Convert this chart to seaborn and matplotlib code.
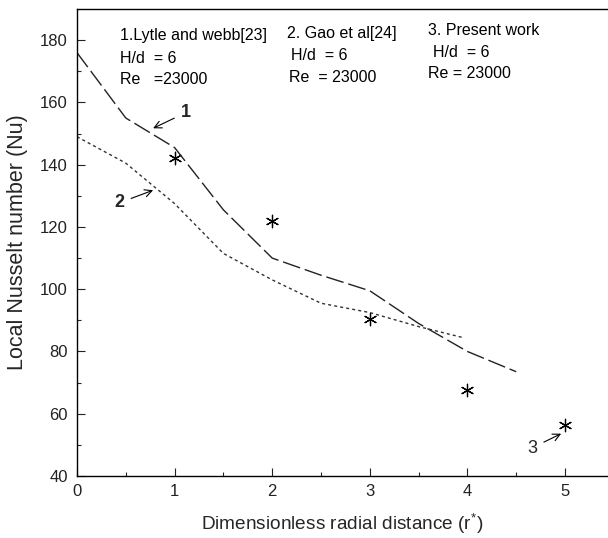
import matplotlib
matplotlib.use("Agg")
import matplotlib.pyplot as plt
import pandas as pd
import seaborn as sns

# Curve 1: Lytle and Webb [23]
x_lytle = [0.0, 0.5, 1.0, 1.5, 2.0, 2.5, 3.0, 3.5, 4.0, 4.5]
nu_lytle = [176, 155, 145.5, 125.5, 110, 104.5, 99.5, 89, 80, 73.5]

# Curve 2: Gao et al [24]
x_gao = [0.0, 0.5, 1.0, 1.5, 2.0, 2.5, 3.0, 3.5, 3.95]
nu_gao = [149, 140.5, 127.5, 111.5, 103, 95.5, 92.5, 88, 84.5]

# Present work (markers)
x_present = [1, 2, 3, 4, 5]
nu_present = [142, 122, 90.5, 67.5, 56.5]

x_ticks = [0, 1, 2, 3, 4, 5]
y_ticks = [40, 60, 80, 100, 120, 140, 160, 180]

sns.set_style("ticks")
plt.rcParams["font.family"] = ["Liberation Sans", "DejaVu Sans"]
plt.rcParams["mathtext.fontset"] = "custom"
plt.rcParams["mathtext.rm"] = "Liberation Sans"
plt.rcParams["mathtext.it"] = "Liberation Sans"

fig = plt.figure(figsize=(6.08, 5.38), dpi=100)
ax = fig.add_axes([0.1266, 0.1152, 0.8734, 0.868])

lytle = pd.DataFrame({"r": x_lytle, "Nu": nu_lytle})
gao = pd.DataFrame({"r": x_gao, "Nu": nu_gao})
present = pd.DataFrame({"r": x_present, "Nu": nu_present})

sns.lineplot(data=lytle, x="r", y="Nu", ax=ax, color="#222222", lw=1.0, sort=False)
ax.lines[-1].set_dashes((13, 3.5))
sns.lineplot(data=gao, x="r", y="Nu", ax=ax, color="#333333", lw=1.0, sort=False)
ax.lines[-1].set_dashes((2.2, 2.2))
sns.scatterplot(data=present, x="r", y="Nu", ax=ax, marker=(6, 2, 0), s=80,
                color="black", linewidth=0.9)

ax.set_xlim(0, 5.44)
ax.set_ylim(40, 190)
ax.set_xticks(x_ticks)
ax.set_yticks(y_ticks)
ax.set_xticks([0.5, 1.5, 2.5, 3.5, 4.5], minor=True)
ax.set_yticks([50, 70, 90, 110, 130, 150, 170], minor=True)
ax.tick_params(which="major", direction="in", length=6, width=0.8,
               labelsize=12, colors="#222222")
ax.tick_params(axis="y", which="major", pad=6.5)
ax.tick_params(axis="x", which="major", pad=6)
ax.tick_params(which="minor", direction="in", length=3, width=0.8)
ax.spines["right"].set_visible(False)
for s in ["left", "bottom", "top"]:
    ax.spines[s].set_linewidth(1.0)
    ax.spines[s].set_color("black")

ax.set_xlabel("Dimensionless radial distance (r$^{*}$)", fontsize=13.7)
ax.set_ylabel("Local Nusselt number (Nu)", fontsize=15.5)
ax.xaxis.set_label_coords(0.5, -0.076)
ax.yaxis.set_label_coords(-0.092, 0.5)

txt = dict(fontsize=11.5, ha="left", va="center", color="black")
ax.text(0.44, 181.6, "1.Lytle and webb[23]", **txt)
ax.text(0.44, 174.2, "H/d  = 6", **txt)
ax.text(0.44, 167.4, "Re   =23000", **txt)
ax.text(2.15, 182.2, "2. Gao et al[24]", **txt)
ax.text(2.19, 175.0, "H/d  = 6", **txt)
ax.text(2.17, 168.0, "Re  = 23000", **txt)
ax.text(3.60, 183.2, "3. Present work", **txt)
ax.text(3.65, 176.2, "H/d  = 6", **txt)
ax.text(3.60, 169.2, "Re = 23000", **txt)

arrow = dict(arrowstyle="->", color="black", lw=0.8, shrinkA=3, shrinkB=0)
ax.annotate("1", xy=(0.78, 151.7), xytext=(1.12, 156.8), fontsize=13,
            fontweight="bold", ha="center", va="center", arrowprops=arrow)
ax.annotate("2", xy=(0.78, 131.8), xytext=(0.43, 127.7), fontsize=13,
            fontweight="bold", ha="center", va="center", arrowprops=arrow)
ax.annotate("3", xy=(4.96, 53.6), xytext=(4.66, 49.0), fontsize=13,
            ha="center", va="center", arrowprops=arrow)

fig.savefig("out.png", dpi=100)
